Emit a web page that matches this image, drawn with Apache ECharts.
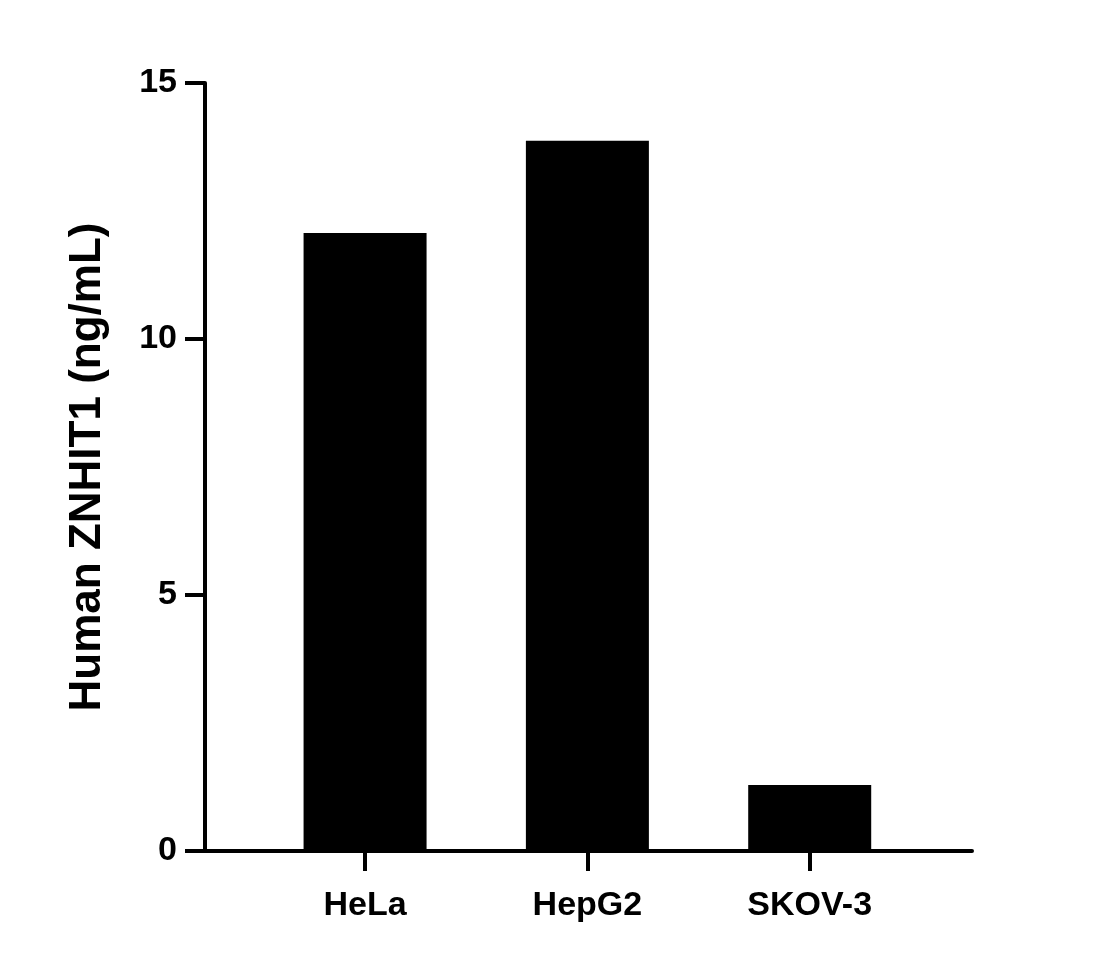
<!DOCTYPE html>
<html><head><meta charset="utf-8">
<script src="https://cdn.jsdelivr.net/npm/echarts@6/dist/echarts.min.js"></script>
<style>html,body{margin:0;background:#fff}#c{width:1110px;height:968px}</style>
</head><body><div id="c"></div>
<script>
let categories = ['HeLa', 'HepG2', 'SKOV-3'];
let positions = [1, 2, 3];
let values = [12.07, 13.87, 1.29];
let yTicks = [0, 5, 10, 15];

let chart = echarts.init(document.getElementById('c'));
let font = 'Liberation Sans, Arial, sans-serif';
chart.setOption({
    animation: false,
    grid: {left: 205, right: 138, top: 83, bottom: 117},
    xAxis: {
        type: 'value', min: 0.28, max: 3.73,
        splitLine: {show: false},
        axisLine: {show: true, onZero: false, lineStyle: {color: '#000', width: 4}},
        axisTick: {show: true, customValues: positions, length: 20, lineStyle: {color: '#000', width: 4}},
        axisLabel: {
            customValues: positions, margin: 38,
            formatter: v => categories[Math.round(v) - 1],
            color: '#000', fontWeight: 'bold', fontSize: 34, fontFamily: font
        }
    },
    yAxis: {
        type: 'value', min: 0, max: 15, interval: 5,
        name: 'Human ZNHIT1 (ng/mL)', nameLocation: 'middle', nameGap: 95,
        nameTextStyle: {color: '#000', fontWeight: 'bold', fontSize: 44, fontFamily: font},
        splitLine: {show: false},
        axisLine: {show: true, lineStyle: {color: '#000', width: 4}},
        axisTick: {show: true, length: 20, lineStyle: {color: '#000', width: 4}},
        axisLabel: {color: '#000', fontWeight: 'bold', fontSize: 34, fontFamily: font, margin: 28}
    },
    series: [{
        type: 'bar', barWidth: 123,
        itemStyle: {color: '#000'},
        data: positions.map((p, i) => [p, values[i]])
    }]
});
</script></body></html>
